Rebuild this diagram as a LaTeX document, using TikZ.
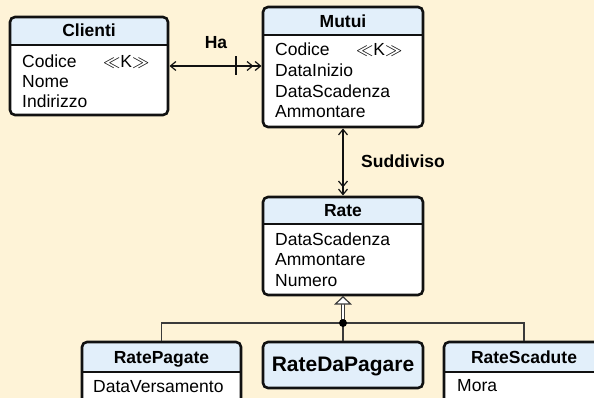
\documentclass[tikz,border=0pt]{standalone}
\usepackage{fontspec}
\setmainfont{Liberation Sans}
\usetikzlibrary{arrows.meta,calc}
\definecolor{bgcol}{HTML}{FEF3D7}
\definecolor{headcol}{HTML}{E2EFFA}
\definecolor{inkcol}{HTML}{111111}
\definecolor{gencol}{HTML}{3A3A3A}
\tikzset{
  boxnode/.style={rectangle, draw=none, inner sep=0pt, outer sep=1.5pt},
  border/.style={draw=inkcol, line width=2.6pt},
  attr/.style={anchor=base west, inner sep=0pt, font=\fontsize{17.5pt}{20pt}\selectfont},
  ttl/.style={anchor=base, inner sep=0pt, font=\fontsize{17.5pt}{20pt}\selectfont\bfseries},
  conn/.style={draw=inkcol, line width=1.2pt},
  barb/.tip={Straight Barb[length=5.5pt,width=9pt,line width=1.2pt]},
  genline/.style={draw=gencol, line width=1.4pt},
}
\newcommand\umlbox[7]{%
  \node[boxnode, minimum width=#4pt, minimum height=#5pt, anchor=north west] (#1) at ({#2-1.5},{#3-1.5}) {};
  \fill[white, rounded corners=5pt] (#2,#3) rectangle ({#2+#4},{#3+#5});
  \begin{scope}
    \clip[rounded corners=5pt] (#2,#3) rectangle ({#2+#4},{#3+#5});
    \fill[headcol] (#2,#3) rectangle ({#2+#4},{#3+#6});
  \end{scope}
  #7
  \draw[border, rounded corners=5pt] (#2,#3) rectangle ({#2+#4},{#3+#5});
}
\begin{document}
\begin{tikzpicture}[x=1pt,y=-1pt]
\useasboundingbox (0,0) rectangle (594,398);
\fill[bgcol] (0,0) rectangle (594,398);
\begin{scope}
\clip (0,0) rectangle (594,398);
% Clienti
\umlbox{clienti}{10}{17}{158}{98}{28}{\draw[border] (10,45) -- (168,45);}
\node[ttl] (clientiT) at (89,37) {Clienti};
\node[attr] (clientiA1) at (22,67.5) {Codice};
\node[attr] (clientiK) at (103,67.5) {$\ll$K$\gg$};
\node[attr] (clientiA2) at (22,87.8) {Nome};
\node[attr] (clientiA3) at (22,108) {Indirizzo};
% Mutui
\umlbox{mutui}{263}{7}{160}{120}{28}{\draw[border] (263,35) -- (423,35);}
\node[ttl] (mutuiT) at (343,27.5) {Mutui};
\node[attr] (mutuiA1) at (275,56) {Codice};
\node[attr] (mutuiK) at (356,56) {$\ll$K$\gg$};
\node[attr] (mutuiA2) at (275,76.7) {DataInizio};
\node[attr] (mutuiA3) at (275,97.3) {DataScadenza};
\node[attr] (mutuiA4) at (275,118) {Ammontare};
% Rate
\umlbox{rate}{263}{197}{160}{98}{27}{\draw[border] (263,224) -- (423,224);}
\node[ttl] (rateT) at (343,216.7) {Rate};
\node[attr] (rateA1) at (275,245) {DataScadenza};
\node[attr] (rateA2) at (275,265.5) {Ammontare};
\node[attr] (rateA3) at (275,286) {Numero};
% RatePagate
\umlbox{ratepag}{82}{342}{159}{80}{30}{\draw[border] (82,372) -- (241,372);}
\node[ttl] (ratepagT) at (161.5,363) {RatePagate};
\node[attr] (ratepagA1) at (93,392.5) {DataVersamento};
% RateDaPagare
\umlbox{rateda}{263}{342}{160}{46}{46}{}
\node[anchor=base, inner sep=0pt, font=\fontsize{21pt}{24pt}\selectfont\bfseries] (ratedaT) at (343,371.5) {RateDaPagare};
% RateScadute
\umlbox{ratescad}{444}{342}{160}{80}{30}{\draw[border] (444,372) -- (604,372);}
\node[ttl] (ratescadT) at (524,363) {RateScadute};
\node[attr] (ratescadA1) at (457,391.5) {Mora};
\end{scope}
% Ha
\draw[conn, {barb}-{barb[sep=1pt] barb}] (clienti.east) -- (clienti.east -| mutui.west);
\coordinate (hatick) at (236,66);
\draw[conn] ($(hatick)+(0,-9.5)$) -- ($(hatick)+(0,9.5)$);
\node[ttl] (haL) at (216,49) {Ha};
% Suddiviso
\draw[conn, {barb}-{barb[sep=1pt] barb}] (mutui.south) -- (rate.north);
\node[attr, font=\fontsize{17.5pt}{20pt}\selectfont\bfseries] (suddL) at (361,168) {Suddiviso};
% Generalization
\coordinate (gen) at (343,323);
\draw[genline] (ratepag.north) |- (gen) -| (ratescad.north);
\draw[genline] (gen) -- (rateda.north);
\draw[draw=gencol, line width=1.2pt, double=white, double distance=2pt] (gen) -- (343,304);
\draw[draw=gencol, line width=1.2pt, fill=white, line join=miter] ($(rate.south)+(0,0.3)$) -- (350.5,304) -- (335.5,304) -- cycle;
\fill[black] (gen) circle (4pt);
\end{tikzpicture}
\end{document}
